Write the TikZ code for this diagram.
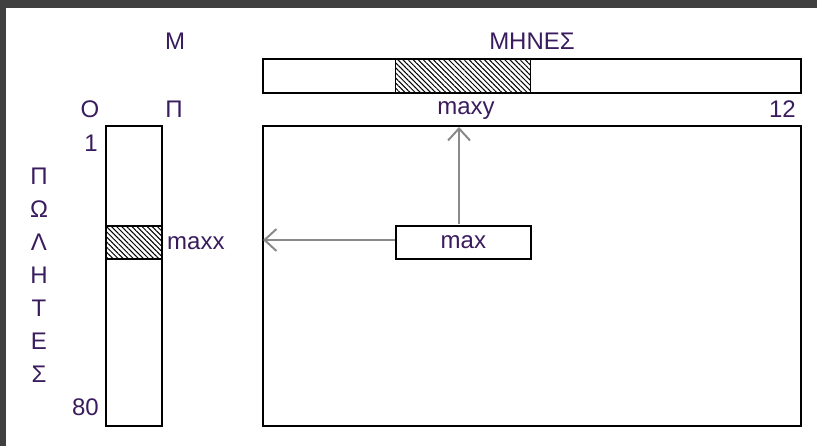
\documentclass[tikz,border=0pt]{standalone}
\usepackage{fontspec}
\setmainfont{Liberation Sans}
\usetikzlibrary{patterns.meta,arrows.meta}
\definecolor{framegray}{HTML}{404040}
\definecolor{txt}{HTML}{3A1C5E}
\definecolor{arrgray}{HTML}{8A8A8A}
\begin{document}
\begin{tikzpicture}[x=1pt,y=-1pt,
  font=\fontsize{24}{28}\selectfont,
  lbl/.style={text=txt, inner sep=0pt},
  boxline/.style={draw=black, line width=1.8pt, inner sep=0pt, anchor=north west},
  hatched/.style={boxline, pattern={Lines[angle=-45, distance=3.6pt, line width=1pt]}},
  arrline/.style={draw=arrgray, line width=2.4pt, -{Straight Barb[length=12pt, width=22pt, line width=2pt]}}]
\useasboundingbox (0,0) rectangle (817,446);
\fill[framegray] (0,0) rectangle (817,8);
\fill[framegray] (0,0) rectangle (6,446);
% top bar (months)
\node[boxline, minimum width=538pt, minimum height=34pt] (bar) at (262,58) {};
\node[hatched, minimum width=135pt, minimum height=34pt] (barhatch) at (395,58) {};
% column
\node[boxline, minimum width=56pt, minimum height=300pt] (col) at (105,125) {};
\node[hatched, minimum width=56pt, minimum height=33pt] (colhatch) at (105,225) {};
% big table
\node[boxline, minimum width=538pt, minimum height=300pt] (table) at (262,125) {};
% max box
\node[boxline, fill=white, minimum width=135pt, minimum height=33pt] (maxbox) at (395,225) {};
\node[lbl] (maxtxt) at (maxbox.center) {max};
% labels
\node[lbl] (lM) at (175,41) {Μ};
\node[lbl] (lmonths) at (532,41) {ΜΗΝΕΣ};
\node[lbl] (lO) at (90,109) {Ο};
\node[lbl] (lP) at (174,109) {Π};
\node[lbl] (lmaxy) at (466,111) {maxy};
\node[lbl, anchor=east] (l12) at (796,109) {12};
\node[lbl, anchor=east] (l1) at (98,143) {1};
\node[lbl, anchor=east] (l80) at (99,407) {80};
\node[lbl, anchor=west] (lmaxx) at (167,243) {maxx};
\foreach \ch [count=\i from 0] in {Π,Ω,Λ,Η,Τ,Ε,Σ} {
  \node[lbl] (v\i) at (39,176+33*\i) {\ch};
}
% arrows
\coordinate (upend) at (459,127);
\coordinate (leftend) at (263,240);
\draw[arrline] (459,224) -- (upend);
\draw[arrline] (maxbox.west |- leftend) -- (leftend);
\end{tikzpicture}
\end{document}
